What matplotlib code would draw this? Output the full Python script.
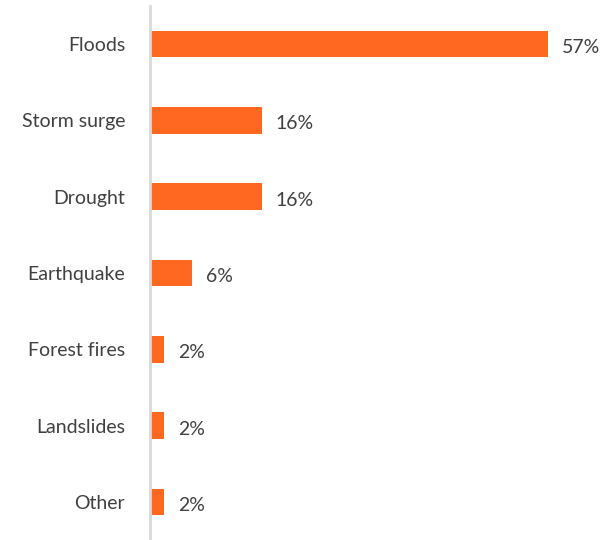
import matplotlib
matplotlib.use("Agg")
import matplotlib.pyplot as plt

categories = ["Floods", "Storm surge", "Drought", "Earthquake",
              "Forest fires", "Landslides", "Other"]
shares = [57, 16, 16, 6, 2, 2, 2]
value_labels = ["57%", "16%", "16%", "6%", "2%", "2%", "2%"]

bar_color = "#FF6820"
text_color = "#404040"

plt.rcParams["font.family"] = ["Lato", "DejaVu Sans"]

W, H = 610, 540
fig = plt.figure(figsize=(W / 100, H / 100), dpi=100)
ax = fig.add_axes([150 / W, 0, 1 - 150 / W, 1 - 6 / H])

y = list(range(len(categories)))
ax.barh(y, shares, height=0.35, color=bar_color, zorder=2)

ax.set_ylim(len(categories) - 0.5, -0.5)
ax.set_xlim(0, 65.9)

for yi, v, lab in zip(y, shares, value_labels):
    ax.annotate(lab, (v, yi), xytext=(14, -2), textcoords="offset pixels",
                va="center_baseline", ha="left", fontsize=14, color=text_color)

ax.set_yticks(y)
ax.set_yticklabels(categories, fontsize=14, color=text_color,
                   va="center_baseline")
ax.tick_params(axis="y", length=0, pad=18)
ax.set_xticks([])

for side in ["top", "right", "bottom"]:
    ax.spines[side].set_visible(False)
ax.spines["left"].set_color("#d9d9d9")
ax.spines["left"].set_linewidth(2)
ax.spines["left"].set_zorder(3)

fig.savefig("out.png", dpi=100)
